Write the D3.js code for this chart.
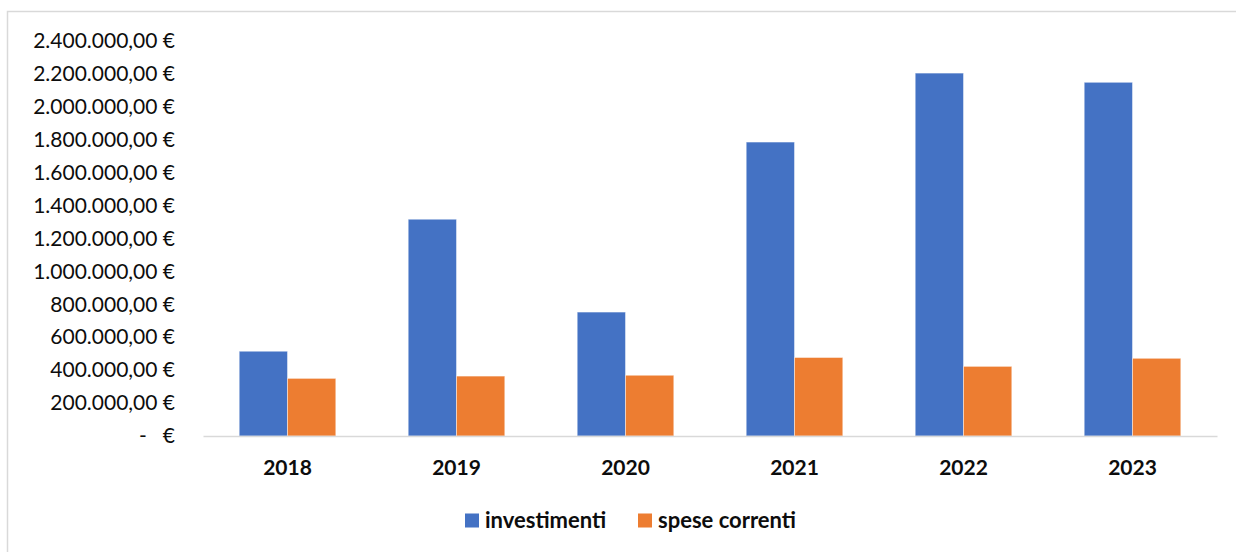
<!DOCTYPE html>
<html>
<head>
<meta charset="utf-8">
<script src="https://cdn.jsdelivr.net/npm/d3@7"></script>
<style>
  html, body { margin: 0; padding: 0; background: #fff; }
  svg { display: block; font-family: Lato, "Noto Sans", sans-serif; }
</style>
</head>
<body>
<svg id="chart" width="1236" height="552"></svg>
<script>
// Anni di riferimento
const years = ["2018", "2019", "2020", "2021", "2022", "2023"];
// Importi in euro per serie
const investimenti = [515000, 1317000, 753000, 1786000, 2205000, 2149000];
const speseCorrenti = [350000, 364000, 369000, 477000, 423000, 472000];
const seriesNames = ["investimenti", "spese correnti"];
const seriesColors = ["#4472C4", "#ED7D31"];
// Valori dei tick dell'asse verticale
const yTicks = [0, 200000, 400000, 600000, 800000, 1000000, 1200000, 1400000,
                1600000, 1800000, 2000000, 2200000, 2400000];

const svg = d3.select("#chart");

// Cornice dell'area grafico
svg.append("path")
  .attr("d", "M7.5,560 V11.5 H1240")
  .attr("fill", "none")
  .attr("stroke", "#D9D9D9")
  .attr("stroke-width", 1.5);

const plot = { left: 203, right: 1217, top: 41, bottom: 436 };

const x = d3.scaleBand().domain(years).range([plot.left, plot.right]).padding(0);
const gapWidth = 1.5; // spazio tra gruppi, in larghezze di barra
const barW = x.bandwidth() / (2 + gapWidth);
const xSub = d3.scaleBand().domain(seriesNames)
  .range([barW * gapWidth / 2, barW * gapWidth / 2 + 2 * barW]);

const y = d3.scaleLinear().domain([0, 2400000]).range([plot.bottom, plot.top]);

// Formato valuta italiano
const it = d3.formatLocale({ decimal: ",", thousands: ".", grouping: [3], currency: ["", " €"] });
const fmt = it.format(",.2f");
const yLabel = v => v === 0 ? "-   €" : fmt(v) + " €";

// Asse Y (solo etichette)
const yAxis = d3.axisLeft(y).tickValues(yTicks).tickFormat(yLabel).tickSize(0).tickPadding(0);
const gy = svg.append("g").attr("transform", "translate(175,0)").call(yAxis);
gy.select(".domain").remove();
gy.selectAll("text")
  .attr("fill", "#0d0d0d")
  .attr("font-size", 21)
  .attr("font-family", "Lato, sans-serif")
  .style("white-space", "pre");

// Barre
const data = years.map((yr, i) => ({ year: yr, values: [investimenti[i], speseCorrenti[i]] }));
const groups = svg.append("g").selectAll("g").data(data).join("g")
  .attr("transform", d => `translate(${x(d.year)},0)`);
groups.selectAll("rect")
  .data(d => d.values.map((v, j) => ({ name: seriesNames[j], value: v, color: seriesColors[j] })))
  .join("rect")
  .attr("x", d => xSub(d.name))
  .attr("width", xSub.bandwidth())
  .attr("y", d => y(d.value))
  .attr("height", d => y(0) - y(d.value))
  .attr("fill", d => d.color)
  .attr("stroke", "rgba(255,255,255,0.45)")
  .attr("stroke-width", 1);

// Asse X
const xAxis = d3.axisBottom(x).tickSize(0).tickPadding(0);
const gx = svg.append("g").attr("transform", `translate(0,${plot.bottom})`).call(xAxis);
gx.select(".domain").attr("stroke", "#D9D9D9").attr("stroke-width", 1.5);
gx.selectAll("text")
  .attr("y", 32)
  .attr("dy", "0.35em")
  .attr("fill", "#0d0d0d")
  .attr("font-size", 21)
  .attr("font-weight", "bold")
  .attr("font-family", "Lato, sans-serif");

// Legenda
const legendX = [465, 638];
const legend = svg.append("g").selectAll("g").data(seriesNames).join("g")
  .attr("transform", (d, i) => `translate(${legendX[i]},513.5)`);
legend.append("rect").attr("width", 14).attr("height", 14)
  .attr("fill", (d, i) => seriesColors[i]);
legend.append("text").attr("x", 20).attr("y", 7).attr("dy", "0.35em")
  .attr("font-size", 22).attr("font-weight", "bold").attr("fill", "#0d0d0d")
  .text(d => d);
</script>
</body>
</html>
